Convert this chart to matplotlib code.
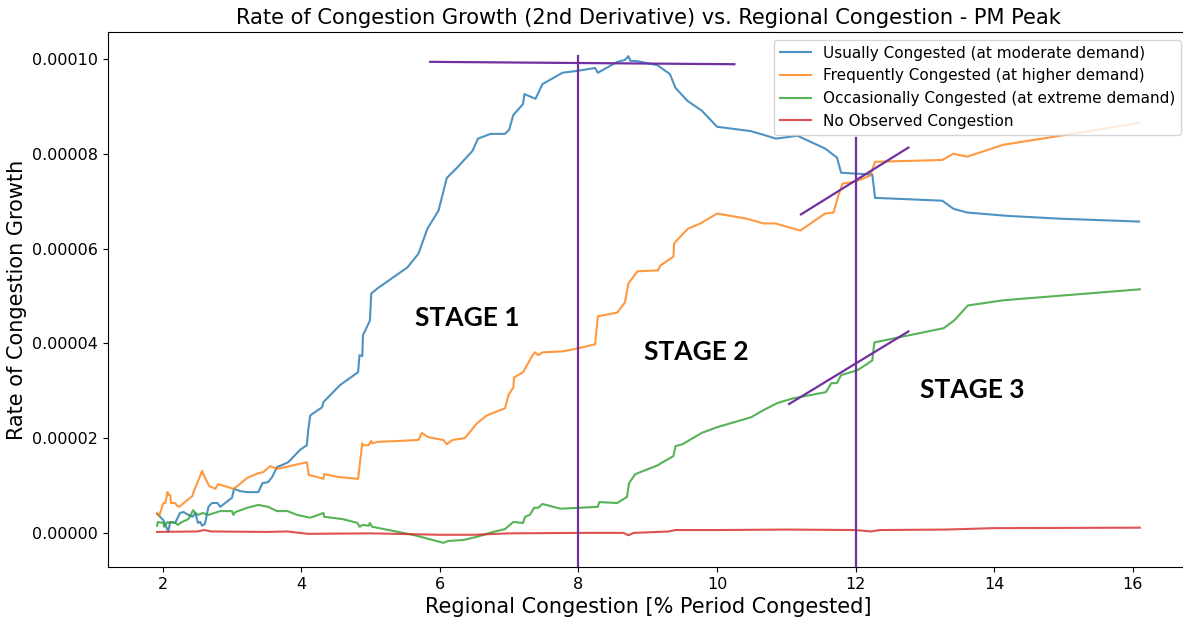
import matplotlib
matplotlib.use("Agg")
import matplotlib.pyplot as plt
import numpy as np

# ---- data (y values in units of 1e-5) ----
usually_x = [1.92, 2.01, 2.08, 2.11, 2.18, 2.25, 2.30, 2.37, 2.43, 2.47, 2.51, 2.54, 2.57, 2.61,
             2.66, 2.71, 2.79, 2.83, 3.00, 3.03, 3.12, 3.22, 3.38, 3.44, 3.52, 3.58, 3.65, 3.72,
             3.81, 3.91, 3.98, 4.08, 4.10, 4.13, 4.30, 4.32, 4.56, 4.82, 4.84, 4.88, 4.89, 4.99,
             5.01, 5.10, 5.53, 5.69, 5.82, 5.98, 6.10, 6.25, 6.47, 6.55, 6.73, 6.94, 7.00, 7.06,
             7.20, 7.22, 7.38, 7.48, 7.77, 7.98, 8.24, 8.28, 8.56, 8.67, 8.72, 8.75, 8.83, 9.14,
             9.32, 9.40, 9.57, 9.78, 10.00, 10.48, 10.67, 10.85, 11.16, 11.56, 11.73, 11.79, 12.02,
             12.24, 12.28, 13.25, 13.41, 13.61, 14.19, 14.95, 16.09]
usually_y = [0.40, 0.27, 0.03, 0.23, 0.21, 0.42, 0.44, 0.38, 0.34, 0.42, 0.21, 0.23, 0.15, 0.19,
             0.55, 0.63, 0.63, 0.55, 0.74, 0.93, 0.88, 0.86, 0.86, 1.05, 1.07, 1.18, 1.39, 1.43,
             1.49, 1.64, 1.75, 1.85, 2.17, 2.48, 2.65, 2.76, 3.12, 3.39, 3.75, 3.73, 4.17, 4.48,
             5.05, 5.16, 5.60, 5.89, 6.42, 6.80, 7.49, 7.71, 8.06, 8.32, 8.42, 8.42, 8.51, 8.82,
             9.05, 9.26, 9.16, 9.47, 9.71, 9.75, 9.81, 9.71, 9.94, 9.98, 10.06, 9.96, 9.96, 9.87,
             9.68, 9.39, 9.12, 8.91, 8.57, 8.48, 8.40, 8.32, 8.38, 8.11, 7.92, 7.60, 7.58,
             7.56, 7.07, 7.01, 6.84, 6.76, 6.69, 6.63, 6.57]

frequently_x = [1.92, 1.95, 2.01, 2.04, 2.07, 2.08, 2.11, 2.12, 2.18, 2.21, 2.24, 2.32, 2.43, 2.44,
                2.57, 2.58, 2.67, 2.76, 2.80, 3.02, 3.08, 3.22, 3.38, 3.45, 3.52, 3.55, 3.65, 4.08,
                4.11, 4.23, 4.32, 4.33, 4.53, 4.82, 4.88, 4.89, 4.97, 5.01, 5.02, 5.10, 5.69, 5.74,
                5.83, 6.05, 6.10, 6.18, 6.36, 6.54, 6.68, 6.94, 6.99, 7.06, 7.07, 7.20, 7.33, 7.37,
                7.42, 7.48, 7.77, 7.98, 8.24, 8.28, 8.56, 8.67, 8.72, 8.85, 9.15, 9.18, 9.37, 9.38,
                9.58, 9.76, 10.00, 10.43, 10.67, 10.84, 11.20, 11.56, 11.68, 11.75, 11.81, 11.99,
                12.21, 12.28, 13.25, 13.41, 13.61, 14.13, 14.95, 16.09]
frequently_y = [0.42, 0.36, 0.63, 0.63, 0.86, 0.80, 0.80, 0.63, 0.63, 0.57, 0.55, 0.65, 0.78, 0.84,
                1.31, 1.26, 0.99, 0.93, 1.03, 0.93, 0.99, 1.16, 1.26, 1.28, 1.37, 1.41, 1.35, 1.49,
                1.22, 1.18, 1.14, 1.24, 1.18, 1.14, 1.89, 1.85, 1.85, 1.94, 1.89, 1.92, 1.96, 2.11,
                2.02, 1.96, 1.87, 1.96, 2.00, 2.32, 2.48, 2.63, 2.91, 3.07, 3.28, 3.39, 3.73, 3.81,
                3.75, 3.81, 3.83, 3.89, 3.98, 4.57, 4.65, 4.86, 5.26, 5.52, 5.54, 5.64, 5.83, 6.11,
                6.42, 6.53, 6.74, 6.63, 6.53, 6.53, 6.38, 6.74, 6.76, 7.12, 7.37, 7.41,
                7.54, 7.83, 7.87, 8.00, 7.94, 8.19, 8.38, 8.65]

occasionally_x = [1.92, 1.93, 2.01, 2.02, 2.07, 2.09, 2.12, 2.18, 2.22, 2.28, 2.37, 2.44, 2.47, 2.51,
                  2.58, 2.66, 2.83, 3.00, 3.02, 3.05, 3.22, 3.38, 3.52, 3.65, 3.80, 3.94, 4.13, 4.32,
                  4.33, 4.60, 4.81, 4.84, 4.89, 4.97, 4.99, 5.02, 5.47, 5.61, 6.05, 6.12, 6.34, 6.54,
                  6.77, 6.94, 7.06, 7.20, 7.23, 7.30, 7.36, 7.42, 7.48, 7.74, 8.28, 8.30, 8.56, 8.70,
                  8.73, 8.82, 9.15, 9.19, 9.37, 9.40, 9.50, 9.78, 10.00, 10.49, 10.67, 10.87, 11.10,
                  11.57, 11.65, 11.73, 11.79, 12.02, 12.14, 12.24, 12.27, 13.27, 13.42, 13.62, 14.14,
                  16.10]
occasionally_y = [0.15, 0.23, 0.21, 0.13, 0.23, 0.21, 0.23, 0.21, 0.17, 0.23, 0.29, 0.48, 0.42, 0.38,
                  0.42, 0.38, 0.46, 0.46, 0.38, 0.44, 0.53, 0.59, 0.55, 0.46, 0.46, 0.38, 0.32, 0.42,
                  0.34, 0.29, 0.21, 0.13, 0.17, 0.15, 0.21, 0.13, 0.00, -0.04, -0.21, -0.17, -0.15, -0.08,
                  0.02, 0.08, 0.23, 0.21, 0.34, 0.38, 0.53, 0.53, 0.61, 0.51, 0.55, 0.65, 0.63, 0.76,
                  1.05, 1.24, 1.43, 1.47, 1.62, 1.83, 1.87, 2.11, 2.23, 2.44, 2.59, 2.74, 2.84,
                  2.97, 3.16, 3.16, 3.33, 3.43, 3.54, 3.64, 4.02, 4.32, 4.48, 4.80, 4.91,
                  5.14]

none_x = [1.92, 2.5, 2.6, 2.7, 3.5, 3.8, 4.1, 5.0, 6.0, 6.5, 7.0, 8.0, 8.65, 8.72, 8.8, 9.3, 9.4,
          10.0, 11.0, 12.0, 12.22, 12.35, 13.3, 14.0, 16.1]
none_y = [0.02, 0.03, 0.06, 0.03, 0.02, 0.03, -0.02, -0.01, -0.04, -0.04, -0.01, 0.0, 0.0, -0.05,
          0.0, 0.03, 0.06, 0.06, 0.07, 0.06, 0.03, 0.06, 0.07, 0.10, 0.11]

series_labels = ["Usually Congested (at moderate demand)",
                 "Frequently Congested (at higher demand)",
                 "Occasionally Congested (at extreme demand)",
                 "No Observed Congestion"]

stage_labels = ["STAGE 1", "STAGE 2", "STAGE 3"]
stage_x = [6.39, 9.70, 13.68]
stage_y = [4.54, 3.82, 3.01]

# annotation lines (x pairs, y pairs in 1e-5)
stage_vlines_x = [8, 12]
stage_vlines_top = [10.06, 8.34]
peak_line = ([5.86, 10.25], [9.94, 9.89])
slope_line_1 = ([11.21, 12.76], [6.72, 8.13])
slope_line_2 = ([11.04, 12.76], [2.72, 4.25])

SCALE = 1e-5

W, H = 1183, 617
fig = plt.figure(figsize=(W / 100, H / 100), dpi=100)
ax_l, ax_r, ax_t, ax_b = 108, 1189, 32, 567
ax = fig.add_axes([ax_l / W, 1 - ax_b / H, (ax_r - ax_l) / W, (ax_b - ax_t) / H])

colors = ["#1f77b4", "#ff7f0e", "#2ca02c", "#d62728"]
for xs, ys, lab, c in zip([usually_x, frequently_x, occasionally_x, none_x],
                          [usually_y, frequently_y, occasionally_y, none_y],
                          series_labels, colors):
    ax.plot(xs, np.array(ys) * SCALE, color=c, lw=1.5, alpha=0.8, label=lab)

ax.set_xlim(1.211, 16.81)
ax.set_ylim(-0.72 * SCALE, 10.57 * SCALE)

purple = "#7030A0"
ymin = ax.get_ylim()[0]
for vx, vt in zip(stage_vlines_x, stage_vlines_top):
    ax.plot([vx, vx], [ymin, vt * SCALE], color=purple, lw=1.6, clip_on=False)
for (lx, ly) in [peak_line, slope_line_1, slope_line_2]:
    ax.plot(lx, np.array(ly) * SCALE, color=purple, lw=1.6)

for t, sx, sy in zip(stage_labels, stage_x, stage_y):
    ax.text(sx, sy * SCALE, t, ha="center", va="center", fontsize=19,
            fontweight="bold", family=["Lato", "DejaVu Sans"], color="black")

ax.set_xticks([2, 4, 6, 8, 10, 12, 14, 16])
ax.set_yticks(np.array([0, 2, 4, 6, 8, 10]) * SCALE)
ax.set_yticklabels(["0.00000", "0.00002", "0.00004", "0.00006", "0.00008", "0.00010"])
ax.tick_params(labelsize=11.5)

ax.set_title("Rate of Congestion Growth (2nd Derivative) vs. Regional Congestion - PM Peak",
             fontsize=15.1)
ax.set_xlabel("Regional Congestion [% Period Congested]", fontsize=15)
ax.set_ylabel("Rate of Congestion Growth", fontsize=15)

ax.legend(loc="upper right", fontsize=11)

fig.savefig("out.png", dpi=100)
